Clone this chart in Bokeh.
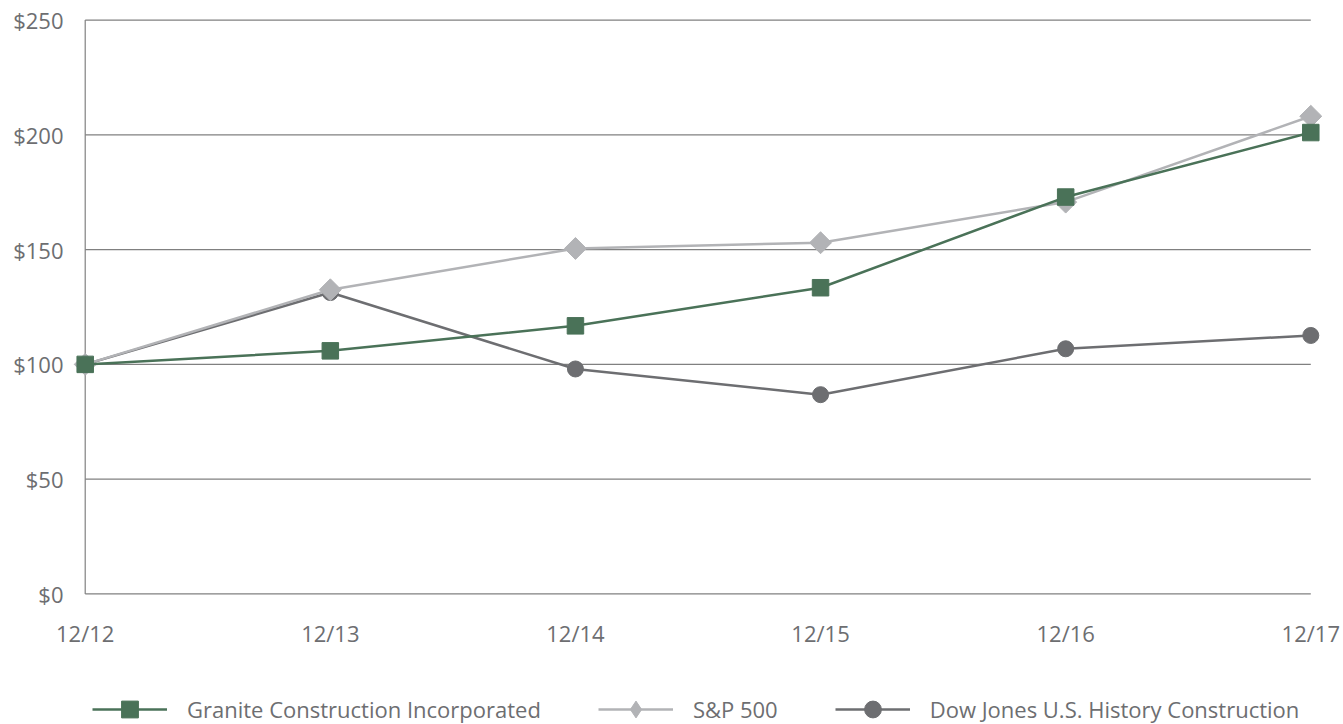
import numpy as np
from bokeh.plotting import figure
from bokeh.layouts import column
from bokeh.models import Range1d, FixedTicker, Legend, LegendItem
from bokeh.embed import file_html
from bokeh.resources import INLINE

periods = ["12/12", "12/13", "12/14", "12/15", "12/16", "12/17"]
granite = [100, 105.9, 116.8, 133.4, 172.9, 201.0]
sp500 = [100, 132.5, 150.5, 153.0, 170.7, 208.1]
dow = [100, 131.3, 98.0, 86.8, 106.8, 112.6]
y_ticks = [0, 50, 100, 150, 200, 250]
y_labels = ["$0", "$50", "$100", "$150", "$200", "$250"]
series_names = ["Granite Construction Incorporated", "S&P 500", "Dow Jones U.S. History Construction"]

GREEN = "#4a7258"
LIGHT = "#b2b3b6"
DARK = "#6d6e71"
GRID = "#808080"
TEXT = "#6d6e71"
FONT = "Open Sans"
FSIZE = "22px"

x = list(range(len(periods)))

p = figure(width=1343, height=655, output_backend="svg", toolbar_location=None,
           x_range=Range1d(-0.06, 5.06), y_range=Range1d(-2, 252),
           min_border_left=70, min_border_right=18, min_border_top=15, min_border_bottom=57)
p.outline_line_color = None
p.background_fill_color = "white"
p.border_fill_color = "white"
p.xgrid.visible = False
p.ygrid.visible = False

# gridlines and axis lines drawn inside the data extent
p.segment(x0=[0] * len(y_ticks), x1=[len(periods) - 1] * len(y_ticks), y0=y_ticks, y1=y_ticks,
          line_color=GRID, line_width=1.2)
p.segment(x0=[0], x1=[0], y0=[0], y1=[y_ticks[-1]], line_color=GRID, line_width=1.2)

# axes
p.yaxis.ticker = FixedTicker(ticks=y_ticks)
p.yaxis.major_label_overrides = {t: l for t, l in zip(y_ticks, y_labels)}
p.xaxis.ticker = FixedTicker(ticks=x)
p.xaxis.major_label_overrides = {i: s for i, s in enumerate(periods)}
for ax in (p.xaxis, p.yaxis):
    ax.axis_line_color = None
    ax.major_tick_line_color = None
    ax.minor_tick_line_color = None
    ax.major_label_text_font = FONT
    ax.major_label_text_font_size = FSIZE
    ax.major_label_text_color = TEXT
p.yaxis.major_label_standoff = 1
p.xaxis.major_label_standoff = 13

# series (Dow bottom, S&P middle, Granite top)
p.line(x, dow, line_color=DARK, line_width=2.5)
p.scatter(x, dow, marker="circle", size=16, fill_color=DARK, line_color=DARK)
p.line(x, sp500, line_color=LIGHT, line_width=2.5)
p.scatter(x, sp500, marker="square", size=15.5, angle=np.pi / 4, fill_color=LIGHT, line_color=LIGHT)
p.line(x, granite, line_color=GREEN, line_width=2.5)
p.scatter(x, granite, marker="square", size=16.5, fill_color=GREEN, line_color=GREEN)

# legend strip below the chart (its renderers lie outside its visible ranges)
lg = figure(width=1343, height=69, output_backend="svg", toolbar_location=None,
            x_range=Range1d(100, 101), y_range=Range1d(1000, 1001),
            x_axis_type=None, y_axis_type=None, min_border=0)
lg.outline_line_color = None
lg.xgrid.visible = False
lg.ygrid.visible = False
styles = [(granite, GREEN, "square"), (sp500, LIGHT, "diamond"), (dow, DARK, "circle")]
items = []
for name, (vals, col, mk) in zip(series_names, styles):
    r1 = lg.line(x, vals, line_color=col, line_width=2.5)
    r2 = lg.scatter(x, vals, marker=mk, fill_color=col, line_color=col)
    items.append(LegendItem(label=name, renderers=[r1, r2]))
legend = Legend(items=items, orientation="horizontal", location=(22, -6),
                glyph_width=75, glyph_height=42, label_standoff=20, spacing=57,
                padding=0, margin=0, border_line_color=None, background_fill_alpha=0,
                label_text_font=FONT, label_text_font_size=FSIZE, label_text_color=TEXT)
lg.add_layout(legend, "center")

layout = column(p, lg, spacing=0)
open("out.html", "w").write(file_html(layout, INLINE))
